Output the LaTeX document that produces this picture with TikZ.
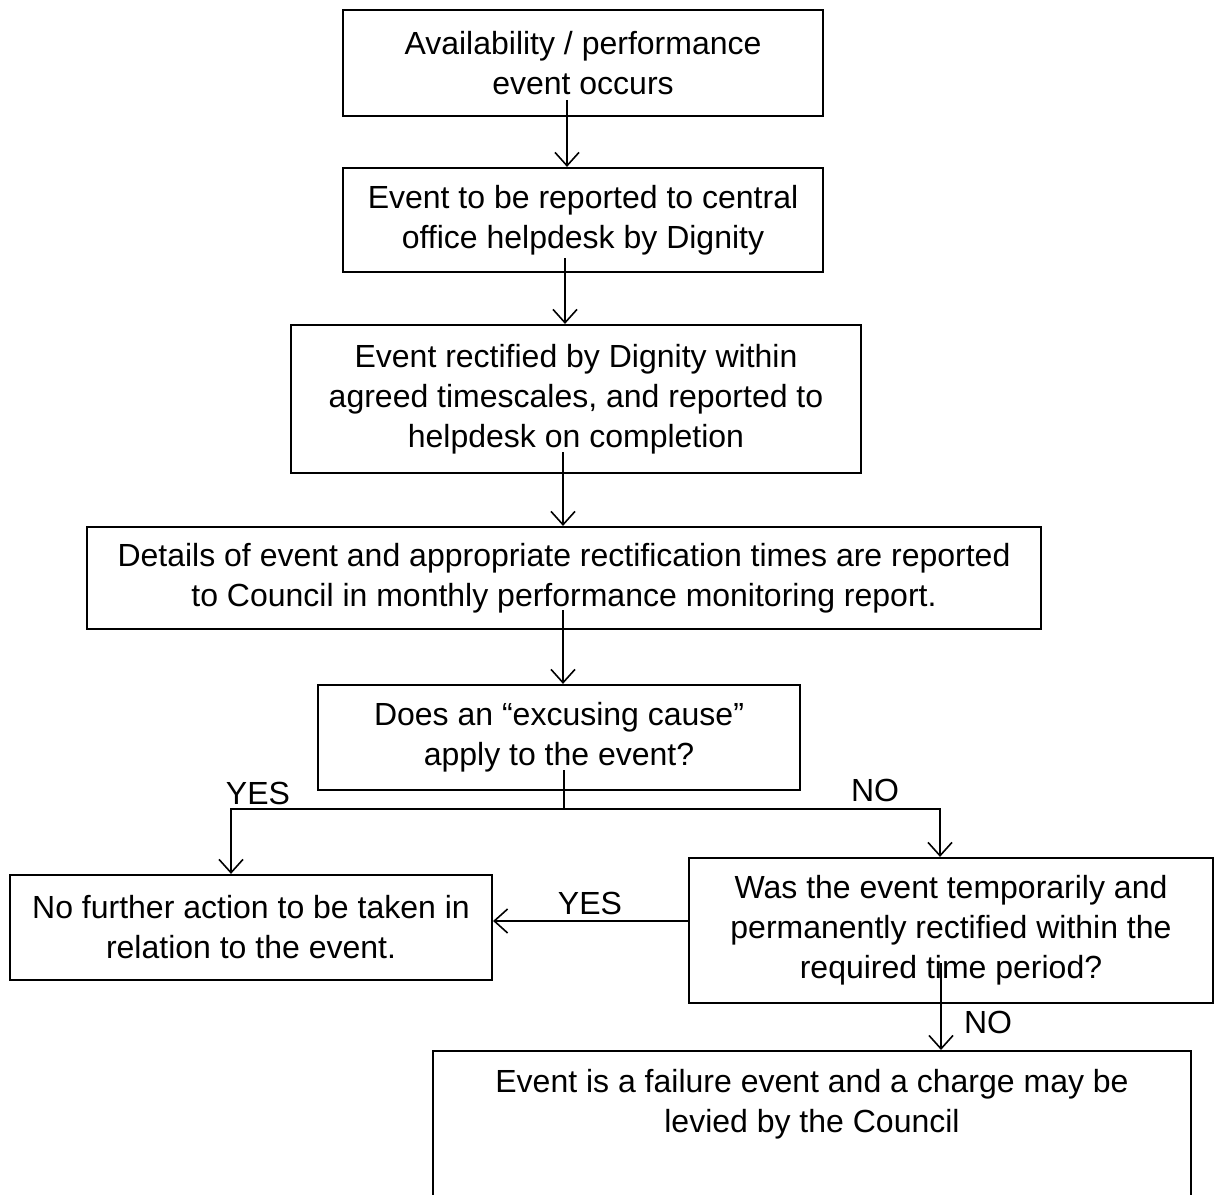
\documentclass[tikz,border=0pt]{standalone}
\usepackage{fontspec}
\setmainfont{Liberation Sans}
\usetikzlibrary{arrows.meta}
\begin{document}
\begin{tikzpicture}[x=0.375pt, y=-0.375pt,
        every node/.style={font=\fontsize{12pt}{15pt}\selectfont},
        stepbox/.style={draw, line width=0.8pt, align=center, inner sep=0pt},
        flow/.style={line width=0.6pt, -{Straight Barb[length=5pt, width=9pt]}}]

        \useasboundingbox (0,0) rectangle (1214,1195);
        \clip (0,0) rectangle (1214,1195);

        \node[stepbox, minimum width=180pt, minimum height=39.75pt] (occurs) at (583,63) {Availability / performance\\event occurs};
        \node[stepbox, minimum width=180pt, minimum height=39pt] (report) at (583,220) {Event to be reported to central\\office helpdesk by Dignity};
        \node[stepbox, minimum width=213.75pt, minimum height=55.5pt] (rectified) at (576,399) {Event rectified by Dignity within\\agreed timescales, and reported to\\helpdesk on completion};
        \node[stepbox, minimum width=357.75pt, minimum height=38.25pt] (details) at (564,578) {Details of event and appropriate rectification times are reported\\to Council in monthly performance monitoring report.};
        \node[stepbox, minimum width=180.75pt, minimum height=39.4pt] (excuse) at (559,737.5) {Does an “excusing cause”\\apply to the event?};
        \node[stepbox, minimum width=180.75pt, minimum height=39.4pt] (noaction) at (251,927.5) {No further action to be taken in\\relation to the event.};
        \node[stepbox, minimum width=196.5pt, minimum height=54.4pt] (temporal) at (951,930.5) {Was the event temporarily and\\permanently rectified within the\\required time period?};
        \node[stepbox, minimum width=284.25pt, inner ysep=7pt, anchor=north] (failure) at (812,1050) {Event is a failure event and a charge may be\\levied by the Council\\\strut\\\strut\\\strut};

        \coordinate (s1) at (567,100);
        \coordinate (s2) at (565,258);
        \coordinate (s3) at (563,452);
        \coordinate (s4) at (563,610);
        \coordinate (s5) at (564,770);
        \coordinate (fork) at (564,809);
        \coordinate (forkL) at (231,809);
        \coordinate (forkR) at (940,809);
        \coordinate (y1) at (689,921);
        \coordinate (s7) at (941,963);

        \draw[flow] (s1) -- (s1 |- report.north);
        \draw[flow] (s2) -- (s2 |- rectified.north);
        \draw[flow] (s3) -- (s3 |- details.north);
        \draw[flow] (s4) -- (s4 |- excuse.north);
        \draw[line width=0.6pt] (s5) -- (fork);
        \draw[flow] (fork) -- (forkL) -- (forkL |- noaction.north);
        \draw[flow] (fork) -- (forkR) -- (forkR |- temporal.north);
        \draw[flow] (temporal.west |- y1) -- (noaction.east |- y1);
        \draw[flow] (s7) -- (s7 |- failure.north);

        \node (yesL) at (258,793) {YES};
        \node (noR) at (875,790) {NO};
        \node (yesM) at (590,903) {YES};
        \node (noB) at (988,1022) {NO};

    \end{tikzpicture}
\end{document}
